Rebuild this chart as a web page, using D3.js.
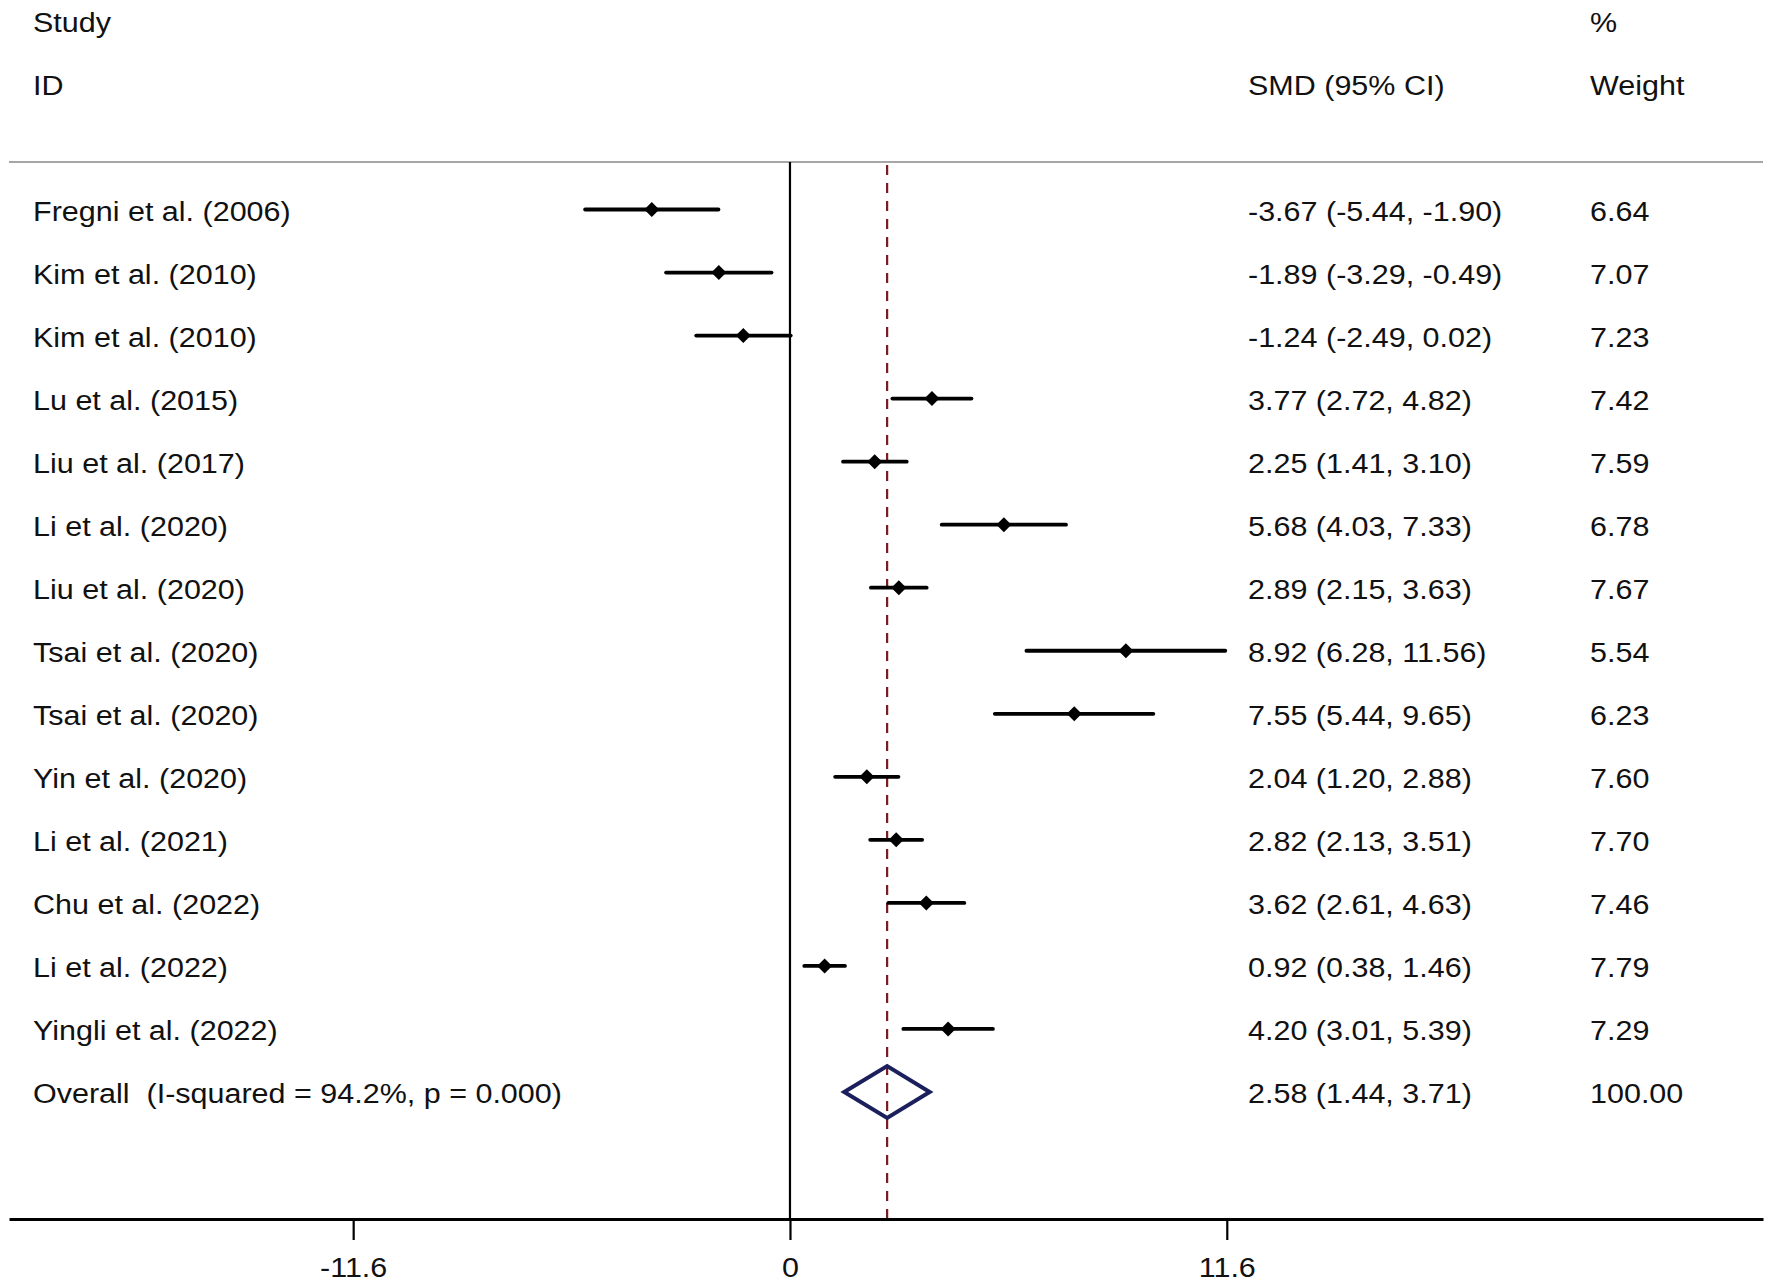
<!DOCTYPE html>
<html><head><meta charset="utf-8">
<script src="https://cdn.jsdelivr.net/npm/d3@7"></script>
<style>
html,body{margin:0;padding:0;background:#fff;}
svg text{font-family:"Liberation Sans",Arial,sans-serif;fill:#111;white-space:pre;}
</style></head>
<body>
<svg id="chart" width="1772" height="1287"></svg>
<script>
const studies = ["Fregni et al. (2006)","Kim et al. (2010)","Kim et al. (2010)","Lu et al. (2015)","Liu et al. (2017)","Li et al. (2020)","Liu et al. (2020)","Tsai et al. (2020)","Tsai et al. (2020)","Yin et al. (2020)","Li et al. (2021)","Chu et al. (2022)","Li et al. (2022)","Yingli et al. (2022)"];
const smd   = [-3.67,-1.89,-1.24,3.77,2.25,5.68,2.89,8.92,7.55,2.04,2.82,3.62,0.92,4.20];
const lower = [-5.44,-3.29,-2.49,2.72,1.41,4.03,2.15,6.28,5.44,1.20,2.13,2.61,0.38,3.01];
const upper = [-1.90,-0.49,0.02,4.82,3.10,7.33,3.63,11.56,9.65,2.88,3.51,4.63,1.46,5.39];
const weights = ["6.64","7.07","7.23","7.42","7.59","6.78","7.67","5.54","6.23","7.60","7.70","7.46","7.79","7.29"];
const overallLabel = "Overall  (I-squared = 94.2%, p = 0.000)";
const overall = {est:2.58, lo:1.44, hi:3.71, weight:"100.00"};
const tickValues = [-11.6, 0, 11.6];
const tickLabels = ["-11.6","0","11.6"];

const fmt = v => v.toFixed(2);
const svg = d3.select("#chart");
const FS = 27, SX = 1.13;

const x = d3.scaleLinear().domain([-20.74, 25.84]).range([9, 1763]);
const y = d3.scaleLinear().domain([0, 14]).range([209.5, 1092]);
const axisY = 1219, headerY = 162;
const colSMD = 1248, colW = 1590, colL = 33;

function txt(g, s, tx, ty, anchor) {
  return g.append("text").attr("transform", `translate(${tx},${ty}) scale(${SX},1)`)
    .attr("text-anchor", anchor || "start").attr("font-size", FS).text(s);
}

// header
txt(svg, "Study", colL, 32);
txt(svg, "ID", colL, 95);
txt(svg, "%", colW, 32);
txt(svg, "SMD (95% CI)", colSMD, 95);
txt(svg, "Weight", colW, 95);
svg.append("line").attr("x1", 9).attr("x2", 1763).attr("y1", headerY).attr("y2", headerY)
  .attr("stroke", "#a6a6a6").attr("stroke-width", 2.2);

// zero line
svg.append("line").attr("x1", x(0)).attr("x2", x(0)).attr("y1", headerY).attr("y2", axisY)
  .attr("stroke", "#000").attr("stroke-width", 2.2);
// overall dashed line
svg.append("line").attr("x1", x(overall.est)).attr("x2", x(overall.est)).attr("y1", headerY + 3).attr("y2", axisY)
  .attr("stroke", "#7a1a1f").attr("stroke-width", 2.2).attr("stroke-dasharray", "10,8");

// studies
const rows = svg.append("g").selectAll("g").data(studies).join("g");
rows.append("line")
  .attr("x1", (d,i) => x(lower[i])).attr("x2", (d,i) => x(upper[i]))
  .attr("y1", (d,i) => y(i)).attr("y2", (d,i) => y(i))
  .attr("stroke", "#000").attr("stroke-width", 3.8).attr("stroke-linecap", "round");
rows.append("path")
  .attr("d", (d,i) => { const cx = x(smd[i]), cy = y(i), r = 7.5;
    return `M${cx},${cy-r}L${cx+r},${cy}L${cx},${cy+r}L${cx-r},${cy}Z`; })
  .attr("fill", "#000");
rows.each(function(d,i){
  const g = d3.select(this);
  txt(g, d, colL, y(i) + 11);
  txt(g, `${fmt(smd[i])} (${fmt(lower[i])}, ${fmt(upper[i])})`, colSMD, y(i) + 11);
  txt(g, weights[i], colW, y(i) + 11);
});

// overall
const oy = y(14);
svg.append("path")
  .attr("d", `M${x(overall.lo)},${oy}L${x(overall.est)},${oy-26}L${x(overall.hi)},${oy}L${x(overall.est)},${oy+26}Z`)
  .attr("fill", "none").attr("stroke", "#1b1f5c").attr("stroke-width", 4).attr("stroke-linejoin", "miter");
txt(svg, overallLabel, colL, oy + 11);
txt(svg, `${fmt(overall.est)} (${fmt(overall.lo)}, ${fmt(overall.hi)})`, colSMD, oy + 11);
txt(svg, overall.weight, colW, oy + 11);

// axis
const axis = d3.axisBottom(x).tickValues(tickValues).tickFormat((d,i) => tickLabels[i]).tickSize(21).tickSizeOuter(0);
const ag = svg.append("g").attr("transform", `translate(0,${axisY})`).call(axis);
ag.select(".domain").attr("stroke", "#000").attr("stroke-width", 3.2);
ag.selectAll(".tick line").attr("stroke", "#000").attr("stroke-width", 2.2);
ag.selectAll(".tick text").each(function(d,i){
  const t = d3.select(this);
  t.attr("y", null).attr("dy", null).attr("font-size", FS)
   .attr("transform", `translate(0,58) scale(${SX},1)`).attr("fill", "#111")
   .style("font-family", '"Liberation Sans",Arial,sans-serif');
});
</script>
</body></html>
